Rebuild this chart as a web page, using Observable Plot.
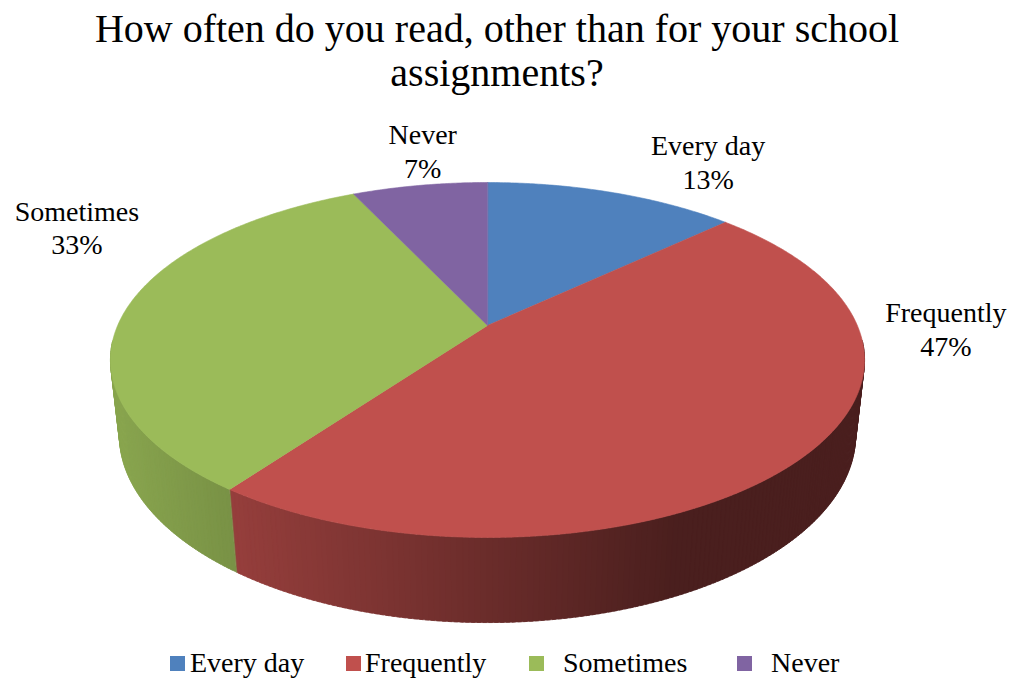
<!DOCTYPE html>
<html>
<head>
<meta charset="utf-8">
<script src="https://cdn.jsdelivr.net/npm/d3@7"></script>
<script src="https://cdn.jsdelivr.net/npm/@observablehq/plot@0.6"></script>
<style>
  html, body { margin: 0; padding: 0; background: #fff; }
  #wrap { position: relative; width: 1015px; height: 679px; font-family: "Liberation Serif", "Times New Roman", Tinos, Times, serif; color: #000; }
  #title { position: absolute; top: 7px; left: 0; width: 994px; text-align: center; font-size: 40px; line-height: 44px; }
  #chart { position: absolute; top: 110px; left: 0; }
  #legend { position: absolute; top: 640px; left: 0; width: 1015px; height: 39px; }
  .sw { position: absolute; top: 16px; width: 15px; height: 15px; }
  .lt { position: absolute; top: 9px; font-size: 28px; line-height: 28px; white-space: nowrap; }
</style>
</head>
<body>
<div id="wrap">
  <div id="title">How often do you read, other than for your school<br>assignments?</div>
  <div id="chart"></div>
  <div id="legend"></div>
</div>
<script>
// ---- data ----
const categories = ["Every day", "Frequently", "Sometimes", "Never"];
const percents = [13, 47, 33, 7];
const colors = ["#4F81BD", "#C0504D", "#9BBB59", "#8064A2"];

// ---- layout / styling (not data) ----
const labelOffsets = [[96, -31], [140, -127], [-49, -83], [3, -35]];
const legendSwatchX = [170, 346, 529, 737];
const legendTextX = [190, 365, 563, 771];

// ---- 3D perspective projection of a tilted pie ----
const alpha = 27.5 * Math.PI / 180;
const S = Math.sin(alpha), C = Math.cos(alpha);
const D = 4.564, F = 1688, H = 0.23;
function proj(r, phi, h) {
  const px = r * Math.sin(phi), pz = r * Math.cos(phi);
  const zc = h * S + D + C * pz;
  return [F * px / zc, F * (h * C - S * pz) / zc];
}
function shade(base, X) {
  const f = Math.max(0.385, Math.min(0.88, 0.88 - 0.00088 * (X + 372)));
  const c = d3.rgb(base);
  return d3.rgb(c.r * f, c.g * f, c.b * f).formatHex();
}

const arcs = d3.pie().sort(null).value(d => d)(percents);
const deg = Math.PI / 180;

// top face polygons
const topPts = [];
arcs.forEach((a, i) => {
  topPts.push({id: "t" + i, x: 0, y: 0, c: colors[i]});
  const n = Math.max(2, Math.ceil((a.endAngle - a.startAngle) / (0.5 * deg)));
  for (let k = 0; k <= n; k++) {
    const phi = a.startAngle + (a.endAngle - a.startAngle) * k / n;
    const [x, y] = proj(1, phi, 0);
    topPts.push({id: "t" + i, x, y, c: colors[i]});
  }
});

// side wall quads (slightly overlapping to hide seams)
const lo = 95 * deg, hi = 265 * deg, step = 0.75 * deg;
const backQ = [], frontQ = [];
arcs.forEach((a, i) => {
  const s0 = Math.max(a.startAngle, lo), s1 = Math.min(a.endAngle, hi);
  if (s1 <= s0) return;
  const n = Math.max(1, Math.ceil((s1 - s0) / step));
  const w = (s1 - s0) / n;
  for (let k = 0; k < n; k++) {
    const p0 = s0 + w * k;
    const p1 = Math.min(s1, p0 + w * 1.6);
    const m = p0 + w / 2;
    const pts = [];
    const sub = 3;
    for (let j = 0; j <= sub; j++) pts.push(proj(1, p0 + (p1 - p0) * j / sub, 0));
    for (let j = sub; j >= 0; j--) pts.push(proj(1, p0 + (p1 - p0) * j / sub, H));
    const col = shade(colors[i], proj(1, m, 0)[0]);
    const facing = -1 - D * C * Math.cos(m) > 0;
    const target = facing ? frontQ : backQ;
    pts.forEach(([x, y]) => target.push({id: `w${i}_${k}`, x, y, c: col}));
  }
});

// labels
const labels = arcs.map((a, i) => {
  const m = (a.startAngle + a.endAngle) / 2;
  const [x, y] = proj(1, m, 0);
  return {x: x + labelOffsets[i][0], y: y + labelOffsets[i][1], text: `${categories[i]}\n${percents[i]}%`};
});

const poly = (data, sw) => Plot.line(data, {x: "x", y: "y", z: "id", fill: "c", stroke: "c", strokeWidth: sw, curve: "linear-closed"});

const chart = Plot.plot({
  width: 1015,
  height: 530,
  margin: 0,
  style: {background: "transparent", overflow: "visible"},
  x: {domain: [-487, 528], range: [0, 1015], axis: null},
  y: {domain: [-215, 315], range: [0, 530], axis: null},
  color: {type: "identity"},
  marks: [
    poly(backQ, 0.6),
    poly(frontQ, 0.6),
    poly(topPts, 0.6),
    Plot.text(labels, {
      x: "x", y: "y", text: "text",
      fontFamily: "'Liberation Serif', 'Times New Roman', Tinos, serif",
      fontSize: 28, lineHeight: 1.2, fill: "#000", textAnchor: "middle"
    })
  ]
});
document.getElementById("chart").appendChild(chart);

// legend
const leg = document.getElementById("legend");
categories.forEach((cat, i) => {
  const sw = document.createElement("div");
  sw.className = "sw";
  sw.style.left = legendSwatchX[i] + "px";
  sw.style.background = colors[i];
  leg.appendChild(sw);
  const t = document.createElement("div");
  t.className = "lt";
  t.style.left = legendTextX[i] + "px";
  t.textContent = cat;
  leg.appendChild(t);
});
</script>
</body>
</html>
